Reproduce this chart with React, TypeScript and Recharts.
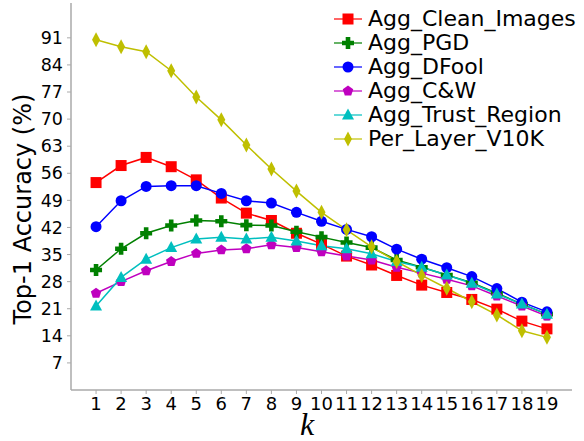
import { LineChart, Line, XAxis, YAxis, Label } from 'recharts'

const ks = [1, 2, 3, 4, 5, 6, 7, 8, 9, 10, 11, 12, 13, 14, 15, 16, 17, 18, 19]
const cleanImages = [53.6, 58.0, 60.1, 57.7, 54.3, 49.6, 45.7, 43.8, 40.5, 37.7, 34.6, 32.3, 29.6, 27.1, 25.2, 23.4, 20.9, 17.8, 15.8]
const pgd = [31.0, 36.5, 40.5, 42.5, 43.8, 43.6, 42.6, 42.5, 40.9, 39.5, 38.1, 36.8, 33.6, 31.7, 29.7, 27.7, 25.0, 22.2, 19.6]
const dfool = [42.2, 48.9, 52.6, 52.8, 52.8, 50.8, 48.9, 48.3, 45.9, 43.6, 41.5, 39.6, 36.4, 33.8, 31.6, 29.3, 26.2, 22.7, 20.2]
const cw = [25.0, 28.0, 30.8, 33.2, 35.3, 36.2, 36.5, 37.5, 36.8, 35.7, 34.6, 33.6, 31.7, 30.2, 28.6, 26.9, 24.3, 21.7, 19.1]
const trustRegion = [21.7, 29.1, 33.8, 36.8, 39.0, 39.5, 39.0, 39.5, 38.5, 37.3, 36.5, 35.2, 33.2, 31.7, 29.7, 27.6, 24.8, 22.2, 19.6]
const perLayer = [90.5, 88.7, 87.4, 82.5, 75.7, 69.8, 63.3, 57.1, 51.4, 45.9, 41.4, 37.0, 33.2, 29.6, 26.3, 22.8, 19.4, 15.3, 13.6]
const yTicks = [7, 14, 21, 28, 35, 42, 49, 56, 63, 70, 77, 84, 91]

const data = ks.map((k, i) => ({
  k,
  clean: cleanImages[i],
  pgd: pgd[i],
  dfool: dfool[i],
  cw: cw[i],
  trust: trustRegion[i],
  perLayer: perLayer[i],
}))

const FONT = '"DejaVu Sans", sans-serif'

type Shape = 'square' | 'plus' | 'circle' | 'pentagon' | 'triangle' | 'diamond'

const series: Array<{ key: string; name: string; color: string; shape: Shape }> = [
  { key: 'clean', name: 'Agg_Clean_Images', color: '#ff0000', shape: 'square' },
  { key: 'pgd', name: 'Agg_PGD', color: '#008000', shape: 'plus' },
  { key: 'dfool', name: 'Agg_DFool', color: '#0000ff', shape: 'circle' },
  { key: 'cw', name: 'Agg_C&W', color: '#bf00bf', shape: 'pentagon' },
  { key: 'trust', name: 'Agg_Trust_Region', color: '#00bfbf', shape: 'triangle' },
  { key: 'perLayer', name: 'Per_Layer_V10K', color: '#bfbf00', shape: 'diamond' },
]

function Marker({ shape, color, cx, cy }: { shape: Shape; color: string; cx: number; cy: number }) {
  if (shape === 'square') return <rect x={cx - 5.5} y={cy - 5.5} width={11} height={11} fill={color} />
  if (shape === 'circle') return <circle cx={cx} cy={cy} r={5.5} fill={color} />
  if (shape === 'plus') {
    const a = 6
    const b = 2.3
    const d = `M${cx - b},${cy - a}H${cx + b}V${cy - b}H${cx + a}V${cy + b}H${cx + b}V${cy + a}H${cx - b}V${cy + b}H${cx - a}V${cy - b}H${cx - b}Z`
    return <path d={d} fill={color} />
  }
  if (shape === 'pentagon') {
    const r = 5.5
    const pts = [0, 1, 2, 3, 4]
      .map((i) => {
        const ang = ((-90 + 72 * i) * Math.PI) / 180
        return `${cx + r * Math.cos(ang)},${cy + r * Math.sin(ang)}`
      })
      .join(' ')
    return <polygon points={pts} fill={color} />
  }
  if (shape === 'triangle') {
    return <polygon points={`${cx},${cy - 6.5} ${cx + 6},${cy + 4.5} ${cx - 6},${cy + 4.5}`} fill={color} />
  }
  return <polygon points={`${cx},${cy - 7.5} ${cx + 4},${cy} ${cx},${cy + 7.5} ${cx - 4},${cy}`} fill={color} />
}

function ChartLegend() {
  return (
    <div style={{ position: 'absolute', left: 333, top: 7, fontFamily: FONT, fontSize: 22 }}>
      {series.map((s) => (
        <div key={s.key} style={{ display: 'flex', alignItems: 'center', height: 24 }}>
          <svg width={32} height={20}>
            <line x1={1} y1={10} x2={29} y2={10} stroke={s.color} strokeOpacity={0.6} strokeWidth={2} />
            <Marker shape={s.shape} color={s.color} cx={15} cy={10} />
          </svg>
          <span style={{ color: '#000', marginLeft: 3, whiteSpace: 'nowrap', lineHeight: '24px' }}>{s.name}</span>
        </div>
      ))}
    </div>
  )
}

export default function App() {
  return (
    <div style={{ position: 'absolute', left: 0, top: 0, width: 584, height: 441 }}>
      <LineChart width={584} height={441} data={data} margin={{ top: 3, right: 12, left: 0, bottom: 0 }}>
        <XAxis
          dataKey="k"
          type="number"
          domain={[0, 20]}
          ticks={ks}
          interval={0}
          height={51}
          tickSize={4}
          tickMargin={3}
          axisLine={{ stroke: '#aaaaaa', strokeWidth: 1.5 }}
          tickLine={{ stroke: '#aaaaaa' }}
          tick={{ fill: '#000', fontSize: 18, fontFamily: FONT }}
        >
          <Label
            content={() => (
              <text x={307} y={435} fontFamily='"Liberation Serif", serif' fontStyle="italic" fontSize={32} textAnchor="middle" fill="#000">
                k
              </text>
            )}
          />
        </XAxis>
        <YAxis
          type="number"
          domain={[0, 100]}
          ticks={yTicks}
          interval={0}
          width={71}
          tickSize={4}
          tickMargin={4}
          axisLine={{ stroke: '#aaaaaa', strokeWidth: 1.5 }}
          tickLine={{ stroke: '#aaaaaa' }}
          tick={{ fill: '#000', fontSize: 17.5, fontFamily: FONT }}
        >
          <Label
            content={() => (
              <text x={31} y={209} transform="rotate(-90 31 209)" fontFamily={FONT} fontSize={24} textAnchor="middle" fill="#000">
                Top-1 Accuracy (%)
              </text>
            )}
          />
        </YAxis>
        {series.map((s) => (
          <Line
            key={s.key}
            dataKey={s.key}
            name={s.name}
            stroke={s.color}
            strokeWidth={1.5}
            isAnimationActive={false}
            dot={(p: any) => <Marker key={`${s.key}-${p.index}`} shape={s.shape} color={s.color} cx={p.cx} cy={p.cy} />}
            activeDot={false}
          />
        ))}
      </LineChart>
      <ChartLegend />
    </div>
  )
}
